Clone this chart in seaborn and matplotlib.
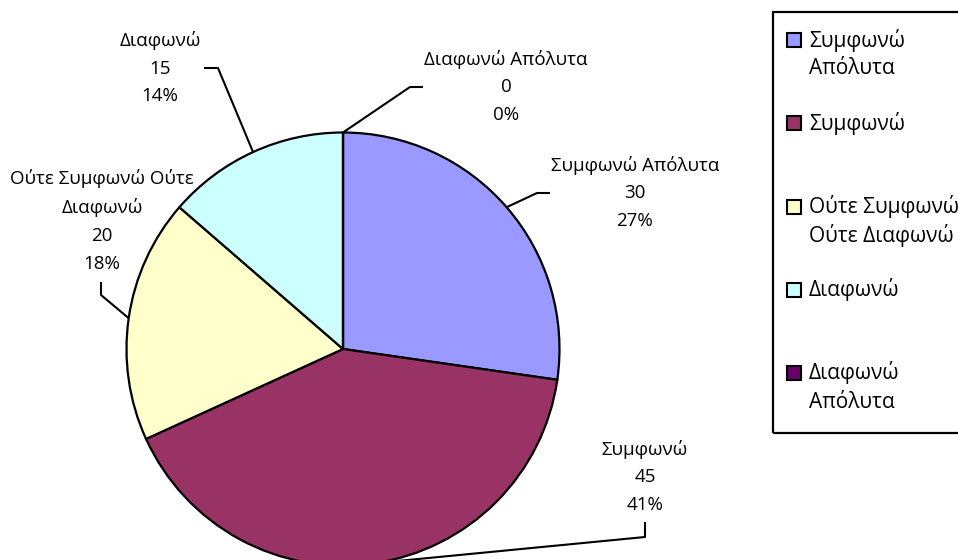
import textwrap

import matplotlib
matplotlib.use("Agg")
import matplotlib.pyplot as plt
from matplotlib.patches import Rectangle
import numpy as np
import seaborn as sns

# Survey answers (Likert scale) and their counts
categories = ["Συμφωνώ Απόλυτα", "Συμφωνώ", "Ούτε Συμφωνώ Ούτε Διαφωνώ",
              "Διαφωνώ", "Διαφωνώ Απόλυτα"]
counts = [30, 45, 20, 15, 0]
slice_colors = ["#9999FF", "#993366", "#FFFFCC", "#CCFFFF", "#660066"]

sns.set_theme(style="white")
plt.rcParams["font.family"] = ["Open Sans", "DejaVu Sans"]

W, H = 958, 560
fig = plt.figure(figsize=(W / 100, H / 100), dpi=100)
ax = fig.add_axes([0, 0, 1, 1])


def px(x, y):
    """Pixel position (origin top-left) -> data coordinates."""
    return x, H - y


palette = sns.color_palette(slice_colors)
center = px(343, 349)
radius = 216.5

wedges, _ = ax.pie(counts, colors=palette, startangle=90, counterclock=False,
                   center=center, radius=radius,
                   wedgeprops=dict(edgecolor="black", linewidth=1.6))
ax.set_xlim(0, W)
ax.set_ylim(0, H)
ax.set_aspect("equal")
ax.axis("off")

# Data labels: text block centre and the elbow/end of each leader line
label_centers = [(635, 193), (645, 477), (102, 221), (160, 68), (506, 87)]
leader_elbows = [[(537, 193), (550, 193)],
                 [(645, 537), (645, 522)],
                 [(101, 295), (101, 282)],
                 [(218, 68), (204, 68)],
                 [(410, 87), (423, 87)]]

total = sum(counts)
label_fs = 13.5
for w, cat, val, (lx, ly), elbow in zip(wedges, categories, counts,
                                         label_centers, leader_elbows):
    mid = np.deg2rad((w.theta1 + w.theta2) / 2)
    ex = center[0] + radius * np.cos(mid)
    ey = center[1] + radius * np.sin(mid)
    pts = [(ex, ey)] + [px(*p) for p in elbow]
    xs, ys = zip(*pts)
    ax.plot(xs, ys, color="black", lw=1.5, solid_capstyle="butt")
    pct = round(val / total * 100)
    text = f"{textwrap.fill(cat, 17)}\n{val}\n{pct}%"
    ax.text(*px(lx, ly), text, ha="center", va="center",
            multialignment="center", fontsize=label_fs, color="black",
            linespacing=1.7)

# Legend panel
legend_fs = 15
ax.add_patch(Rectangle(px(773, 433), 200, 421, fill=False, edgecolor="black",
                       lw=1.6, clip_on=False))
first_line, step, pitch = 40, 83.25, 29
for i, (cat, col) in enumerate(zip(categories, palette)):
    yc = first_line + i * step
    ax.add_patch(Rectangle(px(787.5, yc + 7), 14, 14, facecolor=col,
                           edgecolor="black", lw=1.5))
    for j, line in enumerate(textwrap.fill(cat, 12).split("\n")):
        ax.text(*px(809, yc + j * pitch), line, ha="left", va="center",
                fontsize=legend_fs, color="black")

fig.savefig("out.png", dpi=100, facecolor="white")
